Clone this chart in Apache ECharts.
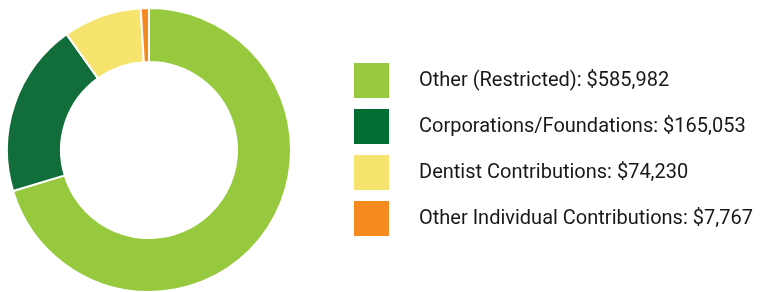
<!DOCTYPE html>
<html>
<head>
<meta charset="utf-8">
<script src="https://cdn.jsdelivr.net/npm/echarts@6/dist/echarts.min.js"></script>
<style>
  html, body { margin: 0; padding: 0; background: #fff; }
  #chart { width: 760px; height: 292px; }
</style>
</head>
<body>
<div id="chart"></div>
<script>
// data
var categories = ['Other (Restricted)', 'Corporations/Foundations', 'Dentist Contributions', 'Other Individual Contributions'];
var amounts = [585982, 165053, 74230, 7767];
var sliceColors = ['#96C93D', '#116D3A', '#F7E46E', '#F58B20'];
var legendColors = ['#96C93D', '#006E33', '#F7E46E', '#F58B20'];

function money(v) {
    return '$' + String(v).replace(/\B(?=(\d{3})+(?!\d))/g, ',');
}

var pieData = categories.map(function (name, i) {
    return { name: name, value: amounts[i], itemStyle: { color: sliceColors[i] } };
});

var chart = echarts.init(document.getElementById('chart'));
chart.setOption({
    animation: false,
    legend: {
        orient: 'vertical',
        left: 354,
        top: 63,
        padding: 0,
        itemWidth: 35,
        itemHeight: 35,
        itemGap: 11,
        icon: 'rect',
        selectedMode: false,
        data: categories.map(function (name, i) {
            return { name: name, itemStyle: { color: legendColors[i], borderWidth: 0 } };
        }),
        formatter: function (name) {
            return name + ': ' + money(amounts[categories.indexOf(name)]);
        },
        textStyle: {
            fontFamily: 'Roboto, sans-serif',
            fontSize: 20,
            color: '#1a1718',
            padding: [0, 0, 0, 25]
        }
    },
    series: [{
        type: 'pie',
        center: [149, 150],
        radius: [88, 142],
        startAngle: 90,
        clockwise: true,
        label: { show: false },
        labelLine: { show: false },
        emphasis: { disabled: true },
        itemStyle: { borderColor: '#fff', borderWidth: 2 },
        data: pieData
    }]
});
</script>
</body>
</html>
